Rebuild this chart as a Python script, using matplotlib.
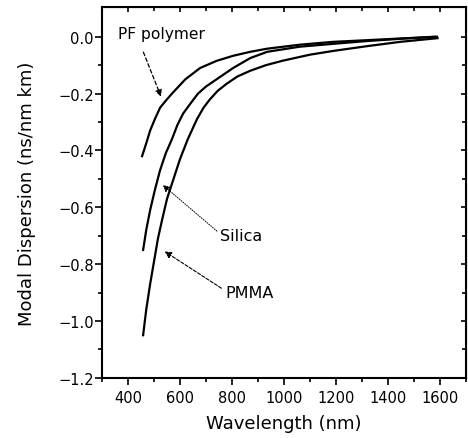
import matplotlib
matplotlib.use('Agg')
import matplotlib.pyplot as plt

plt.rcParams['font.family'] = ['DejaVu Sans']

# values (wavelength nm, modal dispersion ns/nm km)
pf_wl = [454, 470, 485, 503, 523, 545, 569, 620, 677, 740, 804, 870, 935, 1060, 1188, 1320, 1450, 1588]
pf_md = [-0.42, -0.375, -0.33, -0.29, -0.25, -0.225, -0.20, -0.15, -0.11, -0.085, -0.067, -0.053, -0.042, -0.028, -0.018, -0.012, -0.006, 0.0]

silica_wl = [458, 470, 485, 503, 523, 545, 569, 590, 612, 640, 669, 700, 740, 804, 870, 935, 1060, 1188, 1320, 1450, 1580]
silica_md = [-0.75, -0.68, -0.61, -0.54, -0.47, -0.41, -0.36, -0.31, -0.27, -0.235, -0.20, -0.175, -0.15, -0.11, -0.075, -0.053, -0.035, -0.025, -0.015, -0.007, 0.0]

pmma_wl = [458, 470, 485, 500, 515, 532, 550, 575, 600, 630, 665, 690, 715, 745, 780, 820, 869, 930, 996, 1100, 1188, 1320, 1446, 1590]
pmma_md = [-1.05, -0.96, -0.87, -0.79, -0.71, -0.64, -0.57, -0.50, -0.43, -0.36, -0.29, -0.25, -0.22, -0.19, -0.165, -0.14, -0.12, -0.10, -0.084, -0.063, -0.05, -0.033, -0.018, -0.005]

xticks = [400, 600, 800, 1000, 1200, 1400, 1600]
yticks = [0.0, -0.2, -0.4, -0.6, -0.8, -1.0, -1.2]
ylabels = ['0.0', '\u22120.2', '\u22120.4', '\u22120.6', '\u22120.8', '\u22121.0', '\u22121.2']
yminor = [-1.1, -0.9, -0.7, -0.5, -0.3, -0.1]

fig = plt.figure(figsize=(4.68, 4.39), dpi=100)
ax = fig.add_axes([0.218, 0.137, 0.778, 0.845])

for wl, md in [(pf_wl, pf_md), (silica_wl, silica_md), (pmma_wl, pmma_md)]:
    ax.plot(wl, md, color='black', linewidth=1.6)

ax.set_xlim(300, 1700)
ax.set_ylim(-1.2, 0.105)
ax.set_xticks(xticks)
ax.set_yticks(yticks)
ax.set_yticklabels(ylabels)
ax.set_xticks(range(300, 1701, 100), minor=True)
ax.set_yticks(yminor, minor=True)
ax.tick_params(which='both', direction='out', labelsize=10.5, width=1.2)
ax.tick_params(which='major', length=5)
ax.tick_params(which='minor', length=3)
ax.tick_params(axis='y', which='major', pad=1)

# inward ticks on top and right
top = ax.secondary_xaxis('top')
top.set_xticks(xticks)
top.set_xticks(range(300, 1701, 100), minor=True)
top.tick_params(which='both', direction='in', labeltop=False, width=1.2)
top.tick_params(which='minor', length=3)
right = ax.secondary_yaxis('right')
right.set_yticks(yticks)
right.set_yticks(yminor, minor=True)
right.tick_params(which='both', direction='in', labelright=False, width=1.2)
right.tick_params(which='minor', length=3)

for s in ax.spines.values():
    s.set_linewidth(1.5)

ax.set_xlabel('Wavelength (nm)', fontsize=13, labelpad=7)
ax.set_ylabel('Modal Dispersion (ns/nm km)', fontsize=13, labelpad=16)

ax.text(362, 0.012, 'PF polymer', fontsize=11.2, va='center', ha='left')
ax.annotate('', xy=(531, -0.22), xytext=(455, -0.045),
            arrowprops=dict(arrowstyle='-|>', color='black', lw=0.9, linestyle=(0, (3, 2)), mutation_scale=10))

ax.text(754, -0.70, 'Silica', fontsize=11.5, va='center', ha='left')
ax.annotate('', xy=(525, -0.515), xytext=(750, -0.69),
            arrowprops=dict(arrowstyle='-|>', color='black', lw=0.7, linestyle=(0, (1, 1.5)), mutation_scale=10))

ax.text(773, -0.90, 'PMMA', fontsize=11.5, va='center', ha='left')
ax.annotate('', xy=(532, -0.75), xytext=(768, -0.89),
            arrowprops=dict(arrowstyle='-|>', color='black', lw=0.8, linestyle=(0, (3, 1.5)), mutation_scale=10))

fig.savefig('out.png', dpi=100)
